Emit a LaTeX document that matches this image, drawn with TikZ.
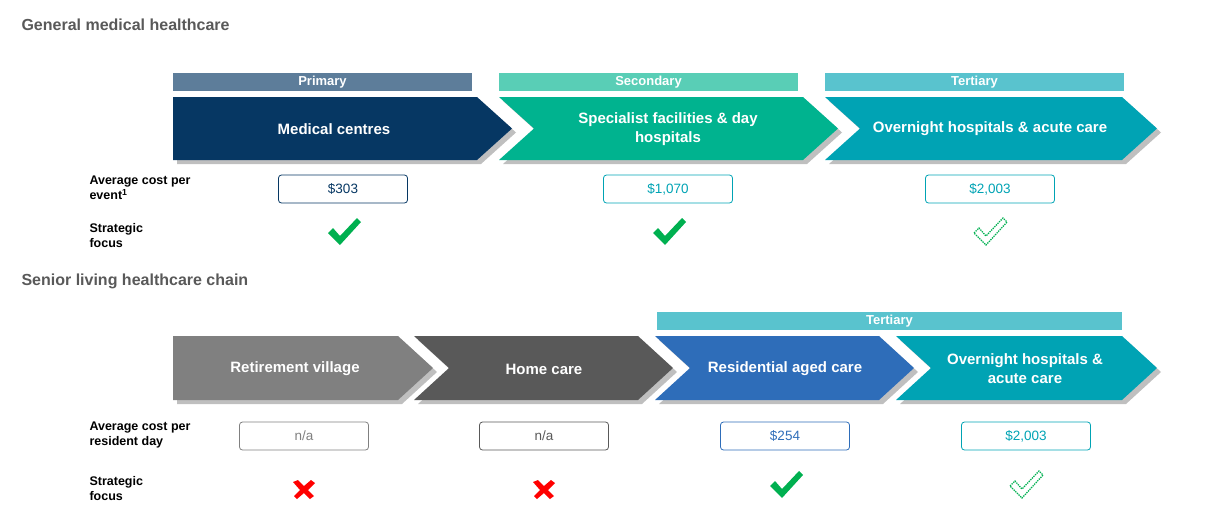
\documentclass[tikz,border=0pt]{standalone}
\usepackage{fontspec}
\setmainfont{Liberation Sans}
\begin{document}
\begin{tikzpicture}[x=1pt,y=-1pt,
  head/.style={anchor=west,font=\fontsize{16}{18}\selectfont\bfseries,text=black!65},
  bar/.style={minimum height=18pt,inner sep=0,text=white,font=\fontsize{13}{15}\selectfont\bfseries},
  ctext/.style={text=white,font=\fontsize{15}{19}\selectfont\bfseries,align=center},
  lab/.style={anchor=west,align=left,font=\fontsize{12.5}{15}\selectfont\bfseries},
  costbox/.style={draw,rounded corners=3pt,minimum width=129pt,minimum height=28pt,font=\fontsize{13.5}{15}\selectfont,line width=0.8pt}]
\useasboundingbox (0,0) rectangle (1205,528);
\definecolor{navy}{HTML}{063763}\definecolor{sec}{HTML}{00B38F}\definecolor{ter}{HTML}{00A3B4}
\definecolor{gA}{HTML}{808080}\definecolor{gB}{HTML}{595959}\definecolor{blu}{HTML}{2E6DB9}
\definecolor{chk}{HTML}{00B050}
\newcommand{\chev}[6]{% x1,x2,ytop,ybot,color,notch(0/1)
  \fill[black!25] ({#1+4},{#3+4}) -- ({#2-35+4},{#3+4}) -- ({#2+4},{(#3+#4)/2+4}) -- ({#2-35+4},{#4+4}) -- ({#1+4},{#4+4}) -- ({#1+4+35*#6},{(#3+#4)/2+4}) -- cycle;
  \fill[#5] (#1,#3) -- ({#2-35},#3) -- (#2,{(#3+#4)/2}) -- ({#2-35},#4) -- (#1,#4) -- ({#1+35*#6},{(#3+#4)/2}) -- cycle;}
\newcommand{\tick}[3]{\begin{scope}[shift={(#1,#2)}]\path[#3] (-16,-1) -- (-11,-6) -- (-4,2) -- (13,-16) -- (17,-12) -- (-4,11) -- cycle;\end{scope}}
\newcommand{\cross}[2]{\begin{scope}[shift={(#1,#2)}]\fill[red] (-11,-7) -- (-6,-9) -- (0,-3) -- (7,-9) -- (11,-6) -- (4,1) -- (10,7) -- (6,10) -- (0,4) -- (-7,10) -- (-10,7) -- (-4,1) -- cycle;\end{scope}}

\node[head] (h1) at (18,25) {General medical healthcare};
\node[head] (h2) at (18,281) {Senior living healthcare chain};

% row 1
\node[bar,fill=navy!65!white,minimum width=299pt] (b1) at (322.5,82) {Primary};
\node[bar,fill=sec!65!white,minimum width=299pt] (b2) at (648.5,82) {Secondary};
\node[bar,fill=ter!65!white,minimum width=299pt] (b3) at (974.5,82) {Tertiary};
\chev{173}{512}{97}{160}{navy}{0}
\chev{499}{838}{97}{160}{sec}{1}
\chev{825}{1157}{97}{160}{ter}{1}
\node[ctext] (c1) at (334,129) {Medical centres};
\node[ctext] (c2) at (668,129) {Specialist facilities \& day\\hospitals};
\node[ctext] (c3) at (990,129) {Overnight hospitals \& acute care};
\node[lab] (l1) at (86,188) {Average cost per\\event\textsuperscript{1}};
\node[lab] (l2) at (86,236) {Strategic\\focus};
\node[costbox,draw=navy,text=navy] (k1) at (343,189) {\$303};
\node[costbox,draw=ter,text=ter] (k2) at (668,189) {\$1,070};
\node[costbox,draw=ter,text=ter] (k3) at (990,189) {\$2,003};
\tick{344}{234}{fill=chk}
\tick{669}{234}{fill=chk}
\tick{990}{234}{draw=chk,densely dotted,line width=1.3pt}

% row 2
\node[bar,fill=ter!65!white,minimum width=465pt] (b4) at (889.5,321) {Tertiary};
\chev{173}{433}{336}{400}{gA}{0}
\chev{414}{673}{336}{400}{gB}{1}
\chev{655}{914}{336}{400}{blu}{1}
\chev{896}{1157}{336}{400}{ter}{1}
\node[ctext] (d1) at (295,369) {Retirement village};
\node[ctext] (d2) at (544,369) {Home care};
\node[ctext] (d3) at (785,369) {Residential aged care};
\node[ctext] (d4) at (1025,369) {Overnight hospitals \&\\acute care};
\node[lab] (l3) at (86,435) {Average cost per\\resident day};
\node[lab] (l4) at (86,489) {Strategic\\focus};
\node[costbox,draw=gA,text=gA] (m1) at (304,436) {n/a};
\node[costbox,draw=gB,text=gB] (m2) at (544,436) {n/a};
\node[costbox,draw=blu,text=blu] (m3) at (785,436) {\$254};
\node[costbox,draw=ter,text=ter] (m4) at (1026,436) {\$2,003};
\cross{304}{489}
\cross{544}{489}
\tick{786}{487}{fill=chk}
\tick{1026}{487}{draw=chk,densely dotted,line width=1.3pt}
\end{tikzpicture}
\end{document}
